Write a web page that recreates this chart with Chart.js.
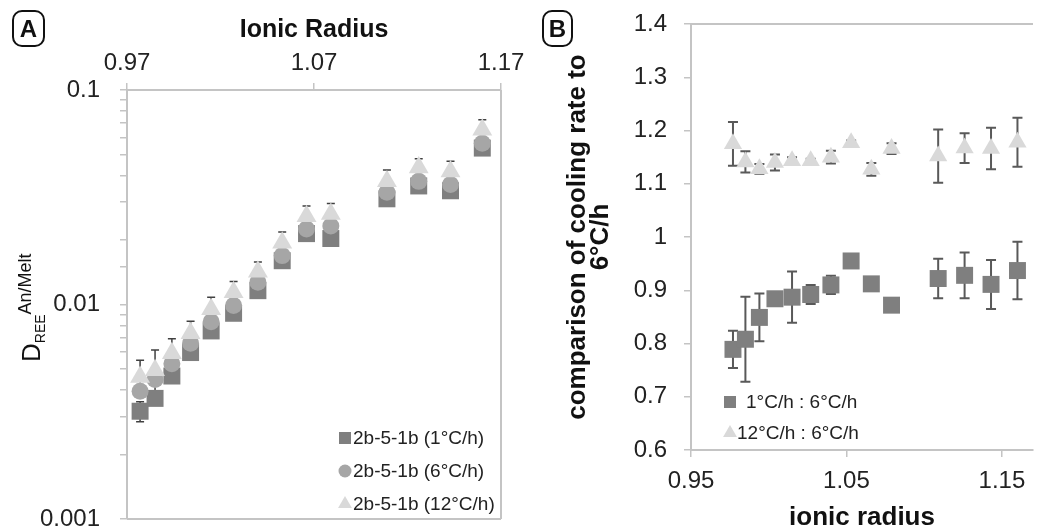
<!DOCTYPE html>
<html>
<head>
<meta charset="utf-8">
<script src="https://cdn.jsdelivr.net/npm/chart.js@4.4.1/dist/chart.umd.min.js"></script>
<style>
  html, body { margin: 0; padding: 0; background: #fff; }
  body { width: 1045px; height: 531px; position: relative; overflow: hidden; font-family: 'Liberation Sans', Arial, sans-serif; }
  .wrap { position: absolute; top: 0; height: 531px; }
  #wrapA { left: 0; width: 545px; }
  #wrapB { left: 520px; width: 525px; }
  .tag { position: absolute; top: 10px; height: 37px; box-sizing: border-box; border: 2px solid #111; border-radius: 10px;
         font: bold 24px 'Liberation Sans', Arial, sans-serif; color: #111; text-align: center; line-height: 33px; }
</style>
</head>
<body>
<div class="wrap" id="wrapA"><canvas id="chartA"></canvas></div>
<div class="wrap" id="wrapB"><canvas id="chartB"></canvas></div>
<div class="tag" style="left:12px;width:33px;">A</div>
<div class="tag" style="left:542px;width:31px;">B</div>
<script>
// ionic radii of the REE, Lu ... La
const radii = [0.977, 0.985, 0.994, 1.004, 1.015, 1.027, 1.040, 1.053, 1.066, 1.079, 1.109, 1.126, 1.143, 1.160];

// panel A: D(REE) An/Melt for three cooling rates
const dA1  = [0.00318, 0.00365, 0.00464, 0.00597, 0.00753, 0.0091, 0.0116, 0.0160, 0.0214, 0.0203, 0.0311, 0.0357, 0.0339, 0.0536];
const dA6  = [0.00394, 0.00447, 0.00530, 0.00660, 0.00830, 0.0099, 0.0127, 0.0169, 0.0225, 0.0232, 0.0334, 0.0375, 0.0363, 0.0565];
const dA12 = [0.00459, 0.00494, 0.00593, 0.00735, 0.00950, 0.0114, 0.0142, 0.0194, 0.0258, 0.0264, 0.0375, 0.0435, 0.0417, 0.0653];
const errA1  = [0.00034, 0.0002, 0.0002, 0.0003, 0.0003, 0.0004, 0.0005, 0.0006, 0.0008, 0.0008, 0.0012, 0.0014, 0.0013, 0.0020];
const errA6  = [0.0002, 0.0002, 0.0002, 0.0003, 0.0003, 0.0004, 0.0005, 0.0006, 0.0008, 0.0009, 0.0012, 0.0013, 0.0013, 0.0020];
const errA12 = [0.0009, 0.0012, 0.0010, 0.0010, 0.0013, 0.0014, 0.0016, 0.0024, 0.0030, 0.0032, 0.0049, 0.0043, 0.0049, 0.0073];
const xTicksA = [0.97, 1.07, 1.17];
const yTicksA = [0.001, 0.01, 0.1];
const legendA = ['2b-5-1b (1°C/h)', '2b-5-1b (6°C/h)', '2b-5-1b (12°C/h)'];

// panel B: ratio to 6°C/h
const rB1   = [0.789, 0.808, 0.849, 0.884, 0.887, 0.892, 0.910, 0.955, 0.912, 0.872, 0.922, 0.928, 0.911, 0.937];
const errB1 = [0.035, 0.080, 0.045, 0.003, 0.048, 0.018, 0.017, 0.003, 0.003, 0.005, 0.037, 0.043, 0.046, 0.054];
const rB12   = [1.175, 1.141, 1.128, 1.140, 1.143, 1.143, 1.150, 1.177, 1.127, 1.166, 1.152, 1.167, 1.166, 1.178];
const errB12 = [0.041, 0.020, 0.009, 0.015, 0.007, 0.004, 0.012, 0.004, 0.012, 0.010, 0.050, 0.028, 0.039, 0.046];
const xTicksB = [0.95, 1.05, 1.15];
const legendB = ['1°C/h : 6°C/h', '12°C/h : 6°C/h'];

const FONT = "'Liberation Sans', Arial, sans-serif";
const TXT = '#222';
const AXIS = '#c4c4c4';
const C_SQ = '#7f7f7f', C_CI = '#a6a6a6', C_TR = '#d9d9d9';

Chart.defaults.font.family = FONT;
Chart.defaults.color = TXT;
Chart.defaults.animation = false;

function pts(ys) {
    return radii.map((r, i) => ({ x: r, y: ys[i] }));
}

function fixBox(w, h) {
    return function(scale) {
        if (w !== null) scale.width = w;
        if (h !== null) scale.height = h;
        scale.paddingLeft = 0; scale.paddingRight = 0;
        scale.paddingTop = 0; scale.paddingBottom = 0;
    };
}

// error bars, drawn under the markers
const errorBars = {
    id: 'errorBars',
    beforeDatasetsDraw(chart, args, opts) {
        const ctx = chart.ctx;
        const xs = chart.scales.x, ys = chart.scales.y;
        ctx.save();
        ctx.strokeStyle = opts.color;
        ctx.lineWidth = opts.width;
        chart.data.datasets.forEach(ds => {
            if (!ds.errors) return;
            ds.data.forEach((p, i) => {
                const e = ds.errors[i];
                const x = xs.getPixelForValue(p.x);
                const y1 = ys.getPixelForValue(p.y + e);
                const y2 = ys.getPixelForValue(p.y - e);
                ctx.beginPath();
                ctx.moveTo(x, y1); ctx.lineTo(x, y2);
                ctx.moveTo(x - opts.cap, y1); ctx.lineTo(x + opts.cap, y1);
                ctx.moveTo(x - opts.cap, y2); ctx.lineTo(x + opts.cap, y2);
                ctx.stroke();
            });
        });
        ctx.restore();
    }
};

// frame lines the axes don't draw
const frame = {
    id: 'frame',
    beforeDatasetsDraw(chart, args, opts) {
        const { ctx, chartArea: a } = chart;
        ctx.save();
        ctx.strokeStyle = AXIS;
        ctx.lineWidth = 2;
        ctx.beginPath();
        if (opts.right) { ctx.moveTo(a.right, a.top); ctx.lineTo(a.right, a.bottom); }
        if (opts.bottom) { ctx.moveTo(a.left, a.bottom); ctx.lineTo(a.right, a.bottom); }
        if (opts.top) { ctx.moveTo(a.left, a.top); ctx.lineTo(a.right, a.top); }
        ctx.stroke();
        ctx.restore();
    }
};

// legend drawn inside the plot
const boxLegend = {
    id: 'boxLegend',
    afterDraw(chart, args, opts) {
        const ctx = chart.ctx;
        ctx.save();
        opts.items.forEach(it => {
            ctx.fillStyle = it.color;
            Chart.helpers.drawPoint(ctx, { pointStyle: it.style, radius: it.r, rotation: 0, borderWidth: 0 }, it.x, it.y);
            ctx.fillStyle = TXT;
            ctx.font = opts.font;
            ctx.textBaseline = 'middle';
            ctx.textAlign = 'left';
            ctx.fillText(it.text, it.tx, it.y + 1);
        });
        ctx.restore();
    }
};

// D_REE^An/Melt title for panel A
const dTitle = {
    id: 'dTitle',
    afterDraw(chart) {
        const ctx = chart.ctx;
        ctx.save();
        ctx.translate(40, 362);
        ctx.rotate(-Math.PI / 2);
        ctx.fillStyle = '#111';
        ctx.textBaseline = 'alphabetic';
        ctx.textAlign = 'left';
        ctx.font = '26px ' + FONT;
        ctx.fillText('D', 0, 0);
        let w = ctx.measureText('D').width;
        ctx.font = '14px ' + FONT;
        ctx.fillText('REE', w, 5);
        w += ctx.measureText('REE').width;
        ctx.font = '18px ' + FONT;
        ctx.fillText('An/Melt', w, -9);
        ctx.restore();
    }
};

new Chart(document.getElementById('chartA').getContext('2d'), {
    type: 'scatter',
    data: {
        datasets: [
            { label: legendA[0], data: pts(dA1), errors: errA1, pointStyle: 'rect', pointRadius: 12, backgroundColor: C_SQ, borderWidth: 0, order: 3 },
            { label: legendA[1], data: pts(dA6), errors: errA6, pointStyle: 'circle', pointRadius: 8.5, backgroundColor: C_CI, borderWidth: 0, order: 2 },
            { label: legendA[2], data: pts(dA12), errors: errA12, pointStyle: 'triangle', pointRadius: 11.5, backgroundColor: C_TR, borderWidth: 0, order: 1 }
        ]
    },
    options: {
        responsive: true,
        maintainAspectRatio: false,
        layout: { padding: { left: 0, top: 0, right: 44, bottom: 9 } },
        plugins: {
            legend: { display: false },
            tooltip: { enabled: false },
            errorBars: { color: '#404040', width: 1.5, cap: 4 },
            frame: { right: true, bottom: true },
            boxLegend: {
                font: '19px ' + FONT,
                items: [
                    { style: 'rect', color: C_SQ, r: 8.5, x: 345, y: 438, tx: 353, text: legendA[0] },
                    { style: 'circle', color: C_CI, r: 6.5, x: 345, y: 471, tx: 353, text: legendA[1] },
                    { style: 'triangle', color: C_TR, r: 8, x: 345, y: 504, tx: 353, text: legendA[2] }
                ]
            }
        },
        scales: {
            x: {
                type: 'linear',
                position: 'top',
                min: 0.97,
                max: 1.17,
                afterBuildTicks: s => { s.ticks = xTicksA.map(v => ({ value: v })); },
                afterFit: fixBox(null, 90),
                grid: { drawOnChartArea: false, color: AXIS, lineWidth: 1.5, tickLength: 7 },
                border: { color: AXIS, width: 2 },
                ticks: { font: { size: 24 }, color: TXT, padding: 5, maxRotation: 0, callback: v => v.toFixed(2) },
                title: { display: true, text: 'Ionic Radius', font: { size: 25, weight: 'bold' }, color: '#111', padding: { top: 15, bottom: 0 } }
            },
            y: {
                type: 'logarithmic',
                min: 0.001,
                max: 0.1,
                afterFit: fixBox(127, null),
                grid: { drawOnChartArea: false, color: AXIS, lineWidth: 1.5, tickLength: 7 },
                border: { color: AXIS, width: 2 },
                ticks: {
                    autoSkip: false,
                    font: { size: 24 },
                    color: TXT,
                    padding: 20,
                    callback: v => yTicksA.some(t => Math.abs(t - v) < t * 1e-6) ? String(v) : ''
                }
            }
        }
    },
    plugins: [errorBars, frame, boxLegend, dTitle]
});

new Chart(document.getElementById('chartB').getContext('2d'), {
    type: 'scatter',
    data: {
        datasets: [
            { label: legendB[0], data: pts(rB1), errors: errB1, pointStyle: 'rect', pointRadius: 12, backgroundColor: C_SQ, borderWidth: 0 },
            { label: legendB[1], data: pts(rB12), errors: errB12, pointStyle: 'triangle', pointRadius: 10.5, backgroundColor: C_TR, borderWidth: 0 }
        ]
    },
    options: {
        responsive: true,
        maintainAspectRatio: false,
        layout: { padding: { left: 0, top: 24, right: 0, bottom: 0 } },
        plugins: {
            legend: { display: false },
            tooltip: { enabled: false },
            errorBars: { color: '#595959', width: 2, cap: 5 },
            frame: { top: true },
            boxLegend: {
                font: '19px ' + FONT,
                items: [
                    { style: 'rect', color: C_SQ, r: 8.5, x: 210, y: 402, tx: 226, text: legendB[0] },
                    { style: 'triangle', color: C_TR, r: 8, x: 210, y: 433, tx: 217, text: legendB[1] }
                ]
            }
        },
        scales: {
            x: {
                type: 'linear',
                min: 0.95,
                max: 1.17,
                afterBuildTicks: s => { s.ticks = xTicksB.map(v => ({ value: v })); },
                afterFit: fixBox(null, 81),
                grid: { drawOnChartArea: false, color: AXIS, lineWidth: 1.5, tickLength: 7 },
                border: { color: AXIS, width: 2 },
                ticks: { font: { size: 24 }, color: TXT, padding: 10, maxRotation: 0, callback: v => v.toFixed(2) },
                title: { display: true, text: 'ionic radius', font: { size: 26, weight: 'bold', lineHeight: 1.0 }, color: '#111', padding: { top: 0, bottom: 0 } }
            },
            y: {
                min: 0.6,
                max: 1.4,
                afterFit: fixBox(171, null),
                grid: { drawOnChartArea: false, color: AXIS, lineWidth: 1.5, tickLength: 7 },
                border: { color: AXIS, width: 2 },
                ticks: { stepSize: 0.1, font: { size: 24 }, color: TXT, padding: 17, callback: v => String(Math.round(v * 10) / 10) },
                title: {
                    display: true,
                    text: ['comparison of cooling rate to', '6°C/h'],
                    font: { size: 26, weight: 'bold', lineHeight: 0.885 },
                    color: '#111',
                    padding: { top: 46, bottom: 0 }
                }
            }
        }
    },
    plugins: [errorBars, frame, boxLegend]
});
</script>
</body>
</html>
